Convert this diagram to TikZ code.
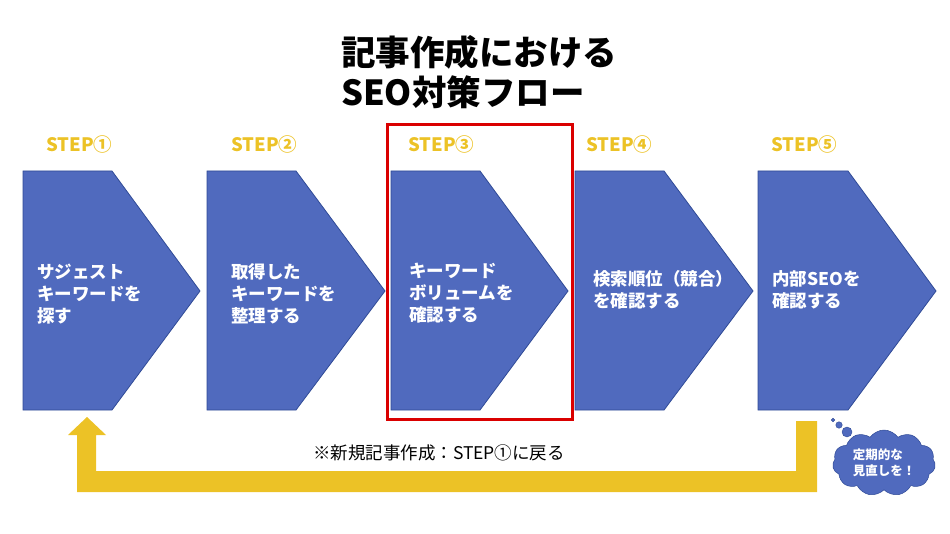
\documentclass[tikz,border=0pt]{standalone}
\usepackage{fontspec}
\setmainfont{Noto Sans CJK JP}
\definecolor{flowblue}{RGB}{80,106,190}
\definecolor{flowedge}{RGB}{47,74,150}
\definecolor{flowgold}{RGB}{236,194,38}
\definecolor{flowred}{RGB}{218,0,0}
\usetikzlibrary{shapes.symbols,positioning}

\begin{document}
\begin{tikzpicture}[x=1pt,y=-1pt,
  chev/.style={fill=flowblue,draw=flowedge,line width=0.8pt},
  steplabel/.style={anchor=west,inner sep=0pt,text=flowgold,font=\fontsize{18.5}{20}\selectfont\bfseries},
  chevtext/.style={anchor=west,inner sep=0pt,text=white,align=left,font=\fontsize{17.5}{22}\selectfont\bfseries},
  bubble/.style={circle,fill=flowblue,draw=flowedge,line width=0.4pt,inner sep=0pt}
]
  \useasboundingbox (0,0) rectangle (950,534);

  % Title
  \node[anchor=west,inner sep=0pt,align=left,font=\fontsize{34.5}{40}\selectfont\bfseries] (title) at (341,72)
    {記事作成における\\SEO対策フロー};

  % Highlight of step 3
  \draw[flowred,line width=3pt] (387,125) rectangle (572,419);

  % Chevrons
  \draw[chev] (23,171) -- (112,171) -- (200,291) -- (112,410) -- (23,410) -- cycle;
  \draw[chev] (207,171) -- (296,171) -- (385,291) -- (296,410) -- (207,410) -- cycle;
  \draw[chev] (391,171) -- (480,171) -- (568,291) -- (480,410) -- (391,410) -- cycle;
  \draw[chev] (575,171) -- (664,171) -- (753,291) -- (664,410) -- (575,410) -- cycle;
  \draw[chev] (758,171) -- (848,171) -- (936,291) -- (848,410) -- (758,410) -- cycle;

  % Step labels
  \node[steplabel] (st1) at (46,144) {STEP①};
  \node[steplabel] (st2) at (231,144) {STEP②};
  \node[steplabel] (st3) at (408,144) {STEP③};
  \node[steplabel] (st4) at (586,144) {STEP④};
  \node[steplabel] (st5) at (771,144) {STEP⑤};

  % Chevron texts
  \node[chevtext] (t1) at (37,294) {サジェスト\\キーワードを\\探す};
  \node[chevtext] (t2) at (231,294) {取得した\\キーワードを\\整理する};
  \node[chevtext] (t3) at (409,293) {キーワード\\ボリュームを\\確認する};
  \node[chevtext] (t4) at (593,290) {検索順位（競合）\\を確認する};
  \node[chevtext] (t5) at (772,290) {内部SEOを\\確認する};

  % Return arrow
  \fill[flowgold] (796,421) -- (817,421) -- (817,492) -- (77,492) -- (77,435) -- (68,435)
    -- (87,417) -- (106,435) -- (96,435) -- (96,471) -- (796,471) -- cycle;
  \node[font=\fontsize{17.5}{20}\selectfont] (back) at (439,453) {※新規記事作成：STEP①に戻る};

  % Thought cloud
  \node[cloud,cloud puffs=11,cloud puff arc=110,aspect=1.6,fill=flowblue,draw=flowedge,line width=0.5pt,
    minimum width=103pt,minimum height=62pt,inner sep=0pt,align=left,text=white,
    font=\fontsize{12.5}{16}\selectfont\bfseries] (cloud) at (884,463) {定期的な\\見直しを！};
  \node[bubble,minimum size=10pt] (b3) at (847,432) {};
  \node[bubble,minimum size=6.5pt] (b2) at (839,425) {};
  \node[bubble,minimum size=3.5pt] (b1) at (833,420) {};
\end{tikzpicture}
\end{document}
